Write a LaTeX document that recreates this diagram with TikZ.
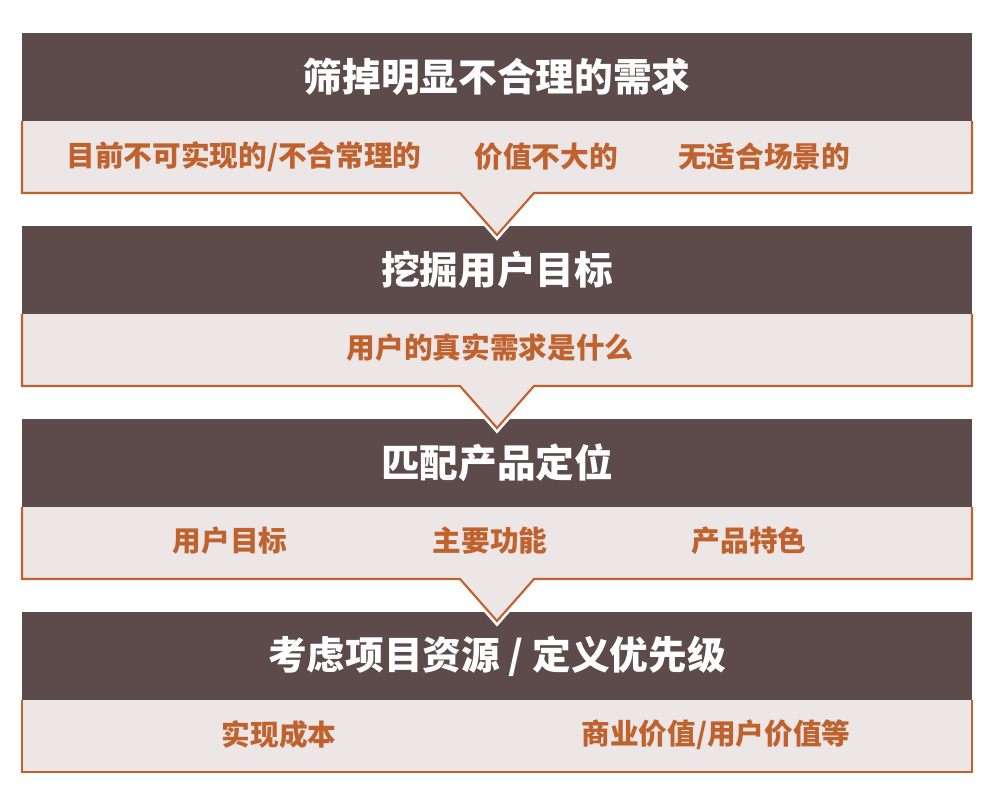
\documentclass[tikz,border=0pt]{standalone}
\usepackage{fontspec}
\setmainfont{Noto Sans CJK SC}
\definecolor{hdr}{HTML}{5D4A4B}
\definecolor{bodybg}{HTML}{ECE6E6}
\definecolor{org}{HTML}{C0622D}
\tikzset{
  header/.style={fill=hdr, minimum width=712.5pt, minimum height=66pt, inner sep=0pt, text=white, font=\bfseries\fontsize{29}{34}\selectfont},
  bodybox/.style={fill=bodybg, minimum width=712.5pt, minimum height=54pt, inner sep=0pt},
  btext/.style={text=org, inner sep=0pt, font=\bfseries\fontsize{21.5}{25}\selectfont},
  outline/.style={draw=org, line width=1.6pt, line join=miter},
  halo/.style={draw=white, line width=5.5pt, line join=miter},
}
\begin{document}
\begin{tikzpicture}[x=0.75pt,y=-0.75pt]
\useasboundingbox (0,0) rectangle (1000,788);
\fill[white] (0,0) rectangle (1000,788);
% headers
\node[header] (h1) at (497,77) {筛掉明显不合理的需求};
\node[header] (h2) at (497,270) {挖掘用户目标};
\node[header] (h3) at (497,463) {匹配产品定位};
\node[header] (h4) at (497,656) {考虑项目资源 / 定义优先级};
% bodies
\node[bodybox] (b1) at (497,157) {};
\node[bodybox] (b2) at (497,350) {};
\node[bodybox] (b3) at (497,543) {};
\node[bodybox] (b4) at (497,736) {};
% notches with halo (connectors between blocks)
\foreach \b/\t in {b1/193,b2/386,b3/579}{
  \draw[halo] (460,\t) -- (497,\t+42) -- (534,\t);
  \fill[bodybg] (458,\t-2) -- (497,\t+42) -- (536,\t-2) -- cycle;
  \draw[outline] (22,\t-72) -- (22,\t) -- (460,\t) -- (497,\t+42) -- (534,\t) -- (972,\t) -- (972,\t-72);
}
\draw[outline] (22,700) -- (22,772) -- (972,772) -- (972,700);
% body texts
\node[btext] (t11) at (244,157) {目前不可实现的/不合常理的};
\node[btext] (t12) at (546,157) {价值不大的};
\node[btext] (t13) at (764,157) {无适合场景的};
\node[btext] (t21) at (490,348) {用户的真实需求是什么};
\node[btext] (t31) at (230,541) {用户目标};
\node[btext] (t32) at (490,541) {主要功能};
\node[btext] (t33) at (749,541) {产品特色};
\node[btext] (t41) at (279,735) {实现成本};
\node[btext] (t42) at (716,735) {商业价值/用户价值等};
\end{tikzpicture}
\end{document}
